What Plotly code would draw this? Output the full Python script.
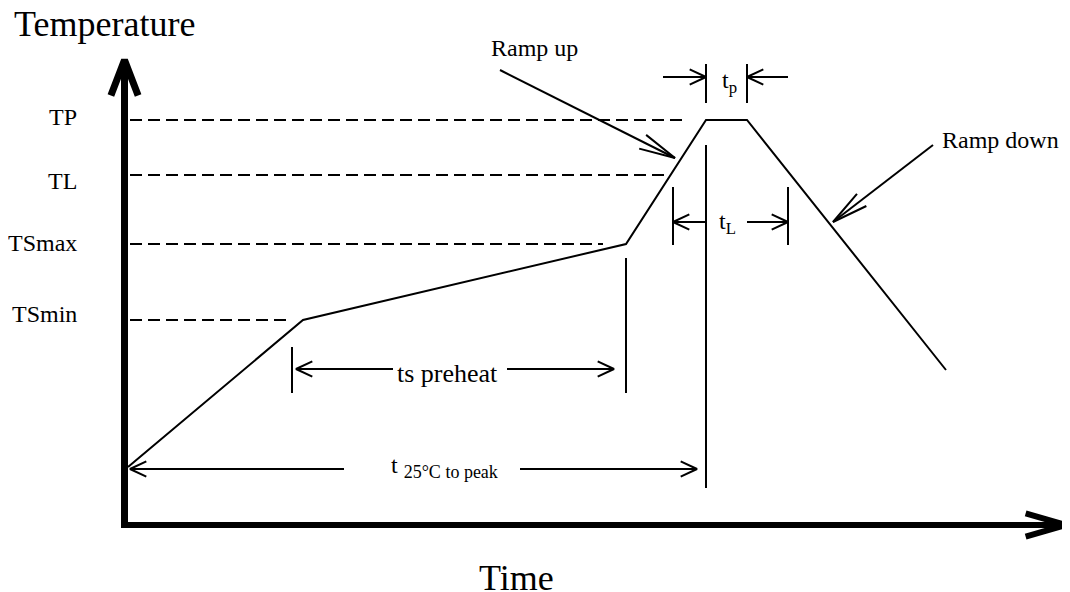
import math

import plotly.graph_objects as go

FONT = "Liberation Serif, Times New Roman, serif"

# Diagram units: time to the right of the y axis, temperature above the x axis.
profile_time = [3, 178, 501, 581, 622, 821]
profile_temp = [58, 205, 281, 405, 405, 155]

level_labels = ["TP", "TL", "TSmax", "TSmin"]
level_temp = [405, 350, 281, 205]
level_label_temp = [408, 344, 282, 211]
level_guide_start = 5
level_guide_end = [558, 542, 478, 167]

# vertical marker bars (tp, tL, ts preheat, t 25°C to peak)
bar_time = [581, 622, 548, 663, 167, 501, 581]
bar_low = [422, 422, 280, 280, 132, 132, 37]
bar_high = [461, 461, 338, 338, 178, 267, 380]

# dimension arrows: tail -> tip at a given level
dim_arrow_temp = [448, 448, 303, 303, 156, 156, 56, 56]
dim_arrow_tail = [538, 663, 581, 622, 268, 382, 219, 395]
dim_arrow_tip = [581, 622, 548, 663, 171, 489, 5, 572]

dim_labels = [
    "t<sub>p</sub>",
    "t<sub>L</sub>",
    "ts preheat",
    't <sub><span style="font-size:18px">25°C to peak</span></sub>',
]
dim_label_size = [24, 24, 26, 24]
dim_label_time = [604, 602, 322, 319]
dim_label_temp = [443, 302, 152, 58]

callout_labels = ["Ramp up", "Ramp down"]
callout_tail_time = [375, 808]
callout_tail_temp = [455, 380]
callout_tip_time = [550, 708]
callout_tip_temp = [367, 303]
callout_text_time = [455, 815]
callout_text_temp = [477, 385]
callout_text_anchor = ["right", "left"]

axis_time = [-0.5, 941]
axis_temp = [465, 0]

# the page body adds an 8px margin, so the view is shifted to compensate
PAGE_OFFSET = 8


def chevron(tip_x, tip_y, tail_x, tail_y, length, spread_deg):
    dx, dy = tail_x - tip_x, tail_y - tip_y
    norm = math.hypot(dx, dy)
    ux, uy = dx / norm, dy / norm
    wings = []
    for sign in (1, -1):
        a = math.radians(spread_deg) * sign
        wx = ux * math.cos(a) - uy * math.sin(a)
        wy = ux * math.sin(a) + uy * math.cos(a)
        wings.append((tip_x + length * wx, tip_y + length * wy))
    return (
        [wings[0][0], tip_x, wings[1][0], None],
        [wings[0][1], tip_y, wings[1][1], None],
    )


def arrow(tail_x, tail_y, tip_x, tip_y, length, spread_deg):
    hx, hy = chevron(tip_x, tip_y, tail_x, tail_y, length, spread_deg)
    return [tail_x, tip_x, None] + hx, [tail_y, tip_y, None] + hy


def line_trace(xs, ys, width, dash="solid"):
    return go.Scatter(
        x=xs,
        y=ys,
        mode="lines",
        line={"color": "black", "width": width, "dash": dash},
        hoverinfo="skip",
        showlegend=False,
    )


fig = go.Figure()

# dashed level guides
gx, gy = [], []
for temp, end in zip(level_temp, level_guide_end):
    gx += [level_guide_start, end, None]
    gy += [temp, temp, None]
fig.add_trace(line_trace(gx, gy, 2, "12px,6px"))

# profile
fig.add_trace(line_trace(profile_time, profile_temp, 2))

# marker bars
bx, by = [], []
for t, lo, hi in zip(bar_time, bar_low, bar_high):
    bx += [t, t, None]
    by += [lo, hi, None]
fig.add_trace(line_trace(bx, by, 2))

# dimension arrows
ax, ay = [], []
for temp, tail, tip in zip(dim_arrow_temp, dim_arrow_tail, dim_arrow_tip):
    xs, ys = arrow(tail, temp, tip, temp, 18, 25)
    ax += xs
    ay += ys
fig.add_trace(line_trace(ax, ay, 2))

# ramp callouts
cx, cy = [], []
for tx, ty, hx, hy in zip(callout_tail_time, callout_tail_temp, callout_tip_time, callout_tip_temp):
    xs, ys = arrow(tx, ty, hx, hy, 37, 12)
    cx += xs
    cy += ys
fig.add_trace(line_trace(cx, cy, 2))

# axes with arrow heads
yx, yy = arrow(axis_time[0], -3, axis_time[0], axis_temp[0], 38, 21)
fig.add_trace(line_trace(yx, yy, 7))
xx, xy = arrow(-4, axis_temp[1], axis_time[1], axis_temp[1], 42, 16)
fig.add_trace(line_trace(xx, xy, 6))

annotations = []
for label, temp in zip(level_labels, level_label_temp):
    annotations.append(dict(x=-46, y=temp, text=label, xanchor="right", yanchor="middle", font={"size": 24}))
for label, size, t, temp in zip(dim_labels, dim_label_size, dim_label_time, dim_label_temp):
    annotations.append(dict(x=t, y=temp, text=label, xanchor="center", yanchor="middle", font={"size": size}))
for label, t, temp, anchor in zip(callout_labels, callout_text_time, callout_text_temp, callout_text_anchor):
    annotations.append(dict(x=t, y=temp, text=label, xanchor=anchor, yanchor="middle", font={"size": 24}))
annotations.append(dict(x=-113, y=501, text="Temperature", xanchor="left", yanchor="middle", font={"size": 36}))
annotations.append(dict(x=391, y=-53, text="Time", xanchor="center", yanchor="middle", font={"size": 36}))
for a in annotations:
    a.update(showarrow=False, xref="x", yref="y")
    a["font"].update(family=FONT, color="black")

fig.update_layout(
    width=1070,
    height=592,
    autosize=False,
    margin={"l": 0, "r": 0, "t": 0, "b": 0},
    paper_bgcolor="white",
    plot_bgcolor="white",
    showlegend=False,
    xaxis={"range": [-125 + PAGE_OFFSET, 945 + PAGE_OFFSET], "visible": False, "fixedrange": True},
    yaxis={"range": [-67 - PAGE_OFFSET, 525 - PAGE_OFFSET], "visible": False, "fixedrange": True},
    annotations=annotations,
    font={"family": FONT, "color": "black"},
)

fig.write_html("out.html")
